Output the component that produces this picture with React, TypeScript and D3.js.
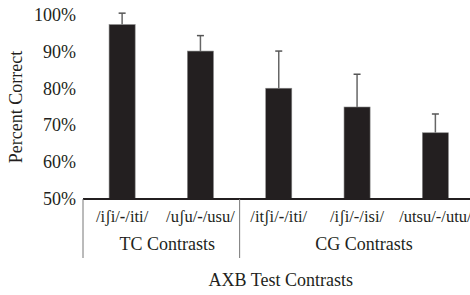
import React from "react";
import { scaleBand, scaleLinear } from "d3";

// values
const categories = ["/iʃi/-/iti/", "/uʃu/-/usu/", "/itʃi/-/iti/", "/iʃi/-/isi/", "/utsu/-/utu/"];
const boldDash = [true, true, true, false, false];
const means = [97.4, 90.2, 80.1, 75.0, 68.0];
const errors = [3.1, 4.2, 10.1, 8.9, 5.1];
const groups = [
  { name: "TC Contrasts", from: 0, to: 2, nudge: 6 },
  { name: "CG Contrasts", from: 2, to: 5, nudge: 7 },
];
const yTicks = [50, 60, 70, 80, 90, 100];

const font = "Liberation Serif";
const ink = "#231f20";

const Label = ({ text, bold }) => {
  const i = text.indexOf("/-/");
  if (i < 0) return <>{text}</>;
  return (
    <>
      {text.slice(0, i + 1)}
      <tspan fontWeight={bold ? "bold" : "normal"}>-</tspan>
      {text.slice(i + 2)}
    </>
  );
};

export default function App() {
  const width = 470;
  const height = 295;
  const margin = { left: 83, top: 15, bottom: 96 };
  const plotRight = 474.5;
  const baseY = height - margin.bottom;

  const x = scaleBand()
    .domain(categories)
    .range([margin.left, plotRight])
    .paddingInner(0.667)
    .paddingOuter(0.333);
  const y = scaleLinear().domain([50, 100]).range([baseY, margin.top]);

  const step = x.step();
  const groupX = (i) => margin.left + step * i;

  return (
    <>
      <style>{`body{margin:0}`}</style>
      <svg width={width} height={height} style={{ display: "block" }}>
        <rect width={width} height={height} fill="#fff" />
        {yTicks.map((t) => (
          <text
            key={t}
            x={76}
            y={y(t)}
            textAnchor="end"
            dominantBaseline="central"
            fontFamily={font}
            fontSize={18}
            fill={ink}
          >
            {t}%
          </text>
        ))}
        <text
          transform={`translate(22,${(y(100) + baseY) / 2}) rotate(-90)`}
          textAnchor="middle"
          fontFamily={font}
          fontSize={18}
          fill={ink}
        >
          Percent Correct
        </text>

        {categories.map((c, i) => {
          const bx = x(c);
          const cx = bx + x.bandwidth() / 2;
          const top = y(means[i]);
          const errTop = y(means[i] + errors[i]);
          return (
            <g key={c}>
              <line x1={cx} x2={cx} y1={top} y2={errTop} stroke="#666" strokeWidth={1.5} />
              <line x1={cx - 3.5} x2={cx + 3.5} y1={errTop} y2={errTop} stroke="#555" strokeWidth={1.5} />
              <rect
                x={bx}
                y={top}
                width={x.bandwidth()}
                height={baseY - top}
                fill={ink}
                stroke="#888"
                strokeWidth={0.6}
              />
              <text x={cx} y={222} textAnchor="middle" fontFamily={font} fontSize={16.5} fill={ink}>
                <Label text={c} bold={boldDash[i]} />
              </text>
            </g>
          );
        })}

        <line x1={margin.left} x2={plotRight} y1={baseY} y2={baseY} stroke={ink} strokeWidth={1.8} />
        {[0, 2].map((g) => (
          <line key={g} x1={groupX(g)} x2={groupX(g)} y1={baseY} y2={258} stroke="#777" strokeWidth={1} />
        ))}
        {groups.map((g) => (
          <text
            key={g.name}
            x={(groupX(g.from) + groupX(g.to)) / 2 + g.nudge}
            y={250}
            textAnchor="middle"
            fontFamily={font}
            fontSize={18}
            fill={ink}
          >
            {g.name}
          </text>
        ))}
        <text
          x={(margin.left + plotRight) / 2 + 2}
          y={286}
          textAnchor="middle"
          fontFamily={font}
          fontSize={18}
          fill={ink}
        >
          AXB Test Contrasts
        </text>
      </svg>
    </>
  );
}
